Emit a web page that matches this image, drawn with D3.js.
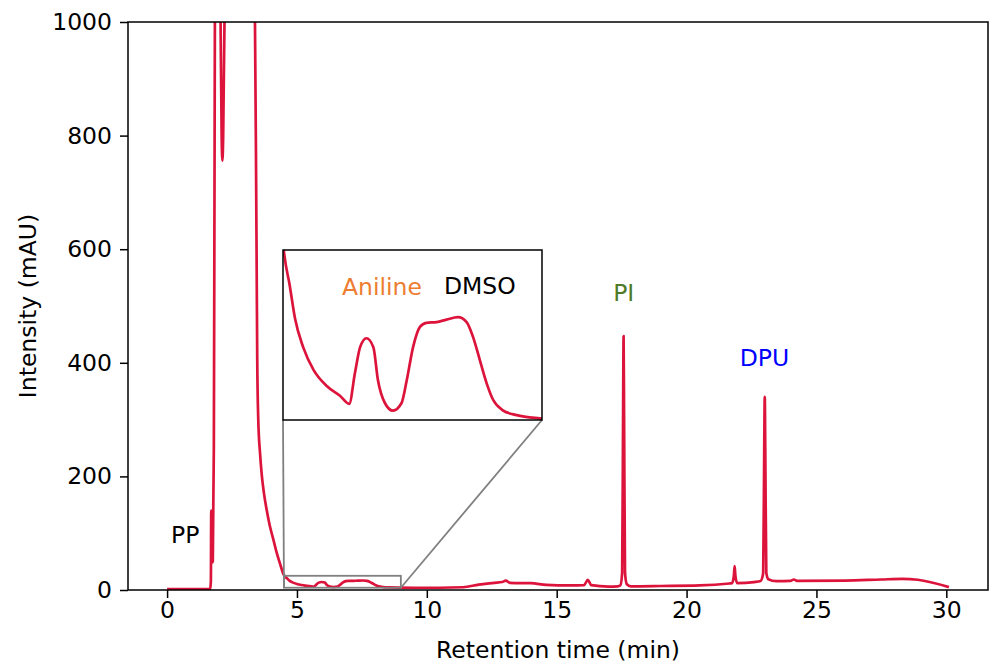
<!DOCTYPE html>
<html>
<head>
<meta charset="utf-8">
<script src="https://cdn.jsdelivr.net/npm/d3@7"></script>
<style>
  body { margin: 0; background: #fff; }
  text { font-family: "DejaVu Sans", sans-serif; }
</style>
</head>
<body>
<div id="chart"></div>
<script>
"use strict";

// chromatogram (min, mAU)
const timeMin = [
    0, 1.0, 1.6, 1.66, 1.685, 1.70, 1.715, 1.725, 1.76, 1.80, 1.83, 1.86, 1.95,
    2.05, 2.10, 2.13, 2.16, 2.22, 2.3, 3.0, 3.3, 3.38, 3.42, 3.45, 3.47, 3.51,
    3.58, 3.64, 3.73, 3.83, 3.95, 4.09, 4.2, 4.35, 4.5, 4.62, 4.71, 4.85, 5.03,
    5.26, 5.49, 5.65, 5.75, 5.84, 5.95, 6.07, 6.15, 6.27, 6.41, 6.56, 6.65, 6.76,
    6.88, 6.99, 7.17, 7.34, 7.54, 7.69, 7.80, 7.92, 8.04, 8.15, 8.32, 8.56, 8.96,
    9.5, 10.5, 11.4, 12.0, 12.6, 12.9, 13.04, 13.2, 13.6, 14.0, 14.6, 15.5,
    16.05, 16.2, 16.33, 17.0, 17.35, 17.45, 17.52, 17.555, 17.575, 17.595, 17.63,
    17.7, 17.85, 19.0, 20.5, 21.65, 21.75, 21.82, 21.85, 21.88, 21.95, 22.6,
    22.85, 22.95, 22.99, 23.01, 23.03, 23.07, 23.15, 23.45, 24.0, 24.13, 24.25,
    26.1, 27.5, 28.3, 28.9, 30.1
];
const intensityMAU = [
    1.5, 1.5, 1.5, 2, 15, 140, 130, 48, 50, 250, 800, 1300, 1500,
    1050, 800, 756, 800, 1050, 1500, 1500, 1300, 1020, 780, 560, 410, 300,
    240, 205, 170, 142, 114, 89, 69, 46, 26, 20.5, 16.5, 13.0, 10.2,
    8.2, 7.0, 6.0, 9.8, 13.0, 14.1, 13.0, 8.9, 6.1, 5.15, 6.1, 8.9, 13.0,
    15.5, 16.0, 16.1, 16.4, 16.7, 16.1, 14.3, 11.4, 8.5, 6.5, 5.2, 4.6, 4.2,
    4.0, 4.0, 4.8, 9.5, 12.5, 14, 16.5, 12.5, 12, 12, 9, 8,
    8.5, 18, 8.5, 6, 6.5, 8, 30, 300, 447, 300, 30,
    10, 6.5, 7, 8, 11.5, 12, 25, 42, 25, 12, 14,
    16, 30, 250, 340, 250, 30, 19, 15.5, 16, 18.5, 16,
    16.5, 18.5, 19.5, 18, 5
];

const xTicks = [0, 5, 10, 15, 20, 25, 30];
const yTicks = [0, 200, 400, 600, 800, 1000];

// zoomed window shown in the inset
const insetX = [4.5, 9];
const insetY = [4, 25];

const mainLabels = ["PP", "PI", "DPU"];
const mainLabelX = [0.7, 17.58, 23.0];
const mainLabelY = [83, 509, 394];
const mainLabelColor = ["#000000", "#4f7a28", "#0000ff"];

const insetLabels = ["Aniline", "DMSO"];
const insetLabelX = [6.22, 7.92];
const insetLabelY = [19.4, 19.6];
const insetLabelColor = ["#ed7d31", "#000000"];

const data = timeMin.map((t, i) => ({t: t, v: intensityMAU[i]}));

const width = 990, height = 664;
const margin = {top: 22, right: 2, bottom: 74, left: 128};
const plotW = width - margin.left - margin.right;
const plotH = height - margin.top - margin.bottom;
const lineColor = "#dc143c";
const fontSize = 23.5;

const xScale = d3.scaleLinear().domain([-1.505, 31.605]).range([0, plotW]);
const yScale = d3.scaleLinear().domain([0, 1000]).range([plotH, 0]);

let svg = d3.select("#chart").append("svg")
            .attr("width", width)
            .attr("height", height);

let defs = svg.append("defs");
defs.append("clipPath").attr("id", "clipMain")
    .append("rect").attr("width", plotW).attr("height", plotH);

let g = svg.append("g")
           .attr("transform", `translate(${margin.left}, ${margin.top})`);

const line = d3.line()
               .x(d => xScale(d.t))
               .y(d => yScale(d.v))
               .curve(d3.curveMonotoneX);

g.append("path")
 .datum(data)
 .attr("clip-path", "url(#clipMain)")
 .attr("fill", "none")
 .attr("stroke", lineColor)
 .attr("stroke-width", 2.7)
 .attr("stroke-linejoin", "round")
 .attr("d", line);

// axes
let xAxis = g.append("g")
             .attr("transform", `translate(0, ${plotH})`)
             .call(d3.axisBottom(xScale).tickValues(xTicks).tickSize(8).tickPadding(3));
let yAxis = g.append("g")
             .call(d3.axisLeft(yScale).tickValues(yTicks).tickFormat(d3.format("d"))
                     .tickSize(8).tickPadding(8));
[xAxis, yAxis].forEach(ax => {
    ax.select(".domain").remove();
    ax.selectAll("text")
      .style("font-family", "DejaVu Sans")
      .style("font-size", fontSize + "px")
      .attr("fill", "#000");
    ax.selectAll("line").attr("stroke", "#000").attr("stroke-width", 1.5);
});

g.append("rect")
 .attr("width", plotW).attr("height", plotH)
 .attr("fill", "none").attr("stroke", "#000").attr("stroke-width", 1.5);

svg.append("text")
   .attr("x", margin.left + plotW / 2)
   .attr("y", 658)
   .attr("text-anchor", "middle")
   .style("font-size", fontSize + "px")
   .text("Retention time (min)");
svg.append("text")
   .attr("transform", `translate(36, ${margin.top + plotH / 2}) rotate(-90)`)
   .attr("text-anchor", "middle")
   .style("font-size", fontSize + "px")
   .text("Intensity (mAU)");

g.selectAll(".main-label")
 .data(mainLabels).enter()
 .append("text")
 .attr("class", "main-label")
 .attr("x", (d, i) => xScale(mainLabelX[i]))
 .attr("y", (d, i) => yScale(mainLabelY[i]))
 .attr("text-anchor", "middle")
 .attr("fill", (d, i) => mainLabelColor[i])
 .style("font-size", fontSize + "px")
 .text(d => d);

// inset
const inset = {x: 155, y: 228, w: 259, h: 170};
const ixScale = d3.scaleLinear().domain(insetX).range([0, inset.w]);
const iyScale = d3.scaleLinear().domain(insetY).range([inset.h, 0]);

// region marker + connectors (main plot coords)
const rx0 = xScale(insetX[0]), rx1 = xScale(insetX[1]);
const ry0 = yScale(insetY[0]), ry1 = yScale(insetY[1]);
g.append("rect")
 .attr("x", rx0).attr("y", ry1)
 .attr("width", rx1 - rx0).attr("height", ry0 - ry1)
 .attr("fill", "none").attr("stroke", "#808080").attr("stroke-width", 1.8);
g.append("line")
 .attr("x1", rx0).attr("y1", ry0)
 .attr("x2", inset.x).attr("y2", inset.y + inset.h)
 .attr("stroke", "#808080").attr("stroke-width", 1.8);
g.append("line")
 .attr("x1", rx1).attr("y1", ry0)
 .attr("x2", inset.x + inset.w).attr("y2", inset.y + inset.h)
 .attr("stroke", "#808080").attr("stroke-width", 1.8);

defs.append("clipPath").attr("id", "clipInset")
    .append("rect").attr("width", inset.w).attr("height", inset.h);

let ig = g.append("g")
          .attr("transform", `translate(${inset.x}, ${inset.y})`);
ig.append("rect")
  .attr("width", inset.w).attr("height", inset.h)
  .attr("fill", "#fff");

const insetLine = d3.line()
                    .x(d => ixScale(d.t))
                    .y(d => iyScale(d.v))
                    .curve(d3.curveMonotoneX);
ig.append("path")
  .datum(data.filter(d => d.t >= 3.9 && d.t <= 9.6))
  .attr("clip-path", "url(#clipInset)")
  .attr("fill", "none")
  .attr("stroke", lineColor)
  .attr("stroke-width", 2.7)
  .attr("stroke-linejoin", "round")
  .attr("d", insetLine);

ig.selectAll(".inset-label")
  .data(insetLabels).enter()
  .append("text")
  .attr("class", "inset-label")
  .attr("x", (d, i) => ixScale(insetLabelX[i]))
  .attr("y", (d, i) => iyScale(insetLabelY[i]))
  .attr("text-anchor", "middle")
  .attr("fill", (d, i) => insetLabelColor[i])
  .style("font-size", fontSize + "px")
  .text(d => d);

ig.append("rect")
  .attr("width", inset.w).attr("height", inset.h)
  .attr("fill", "none").attr("stroke", "#000").attr("stroke-width", 1.5);
</script>
</body>
</html>
